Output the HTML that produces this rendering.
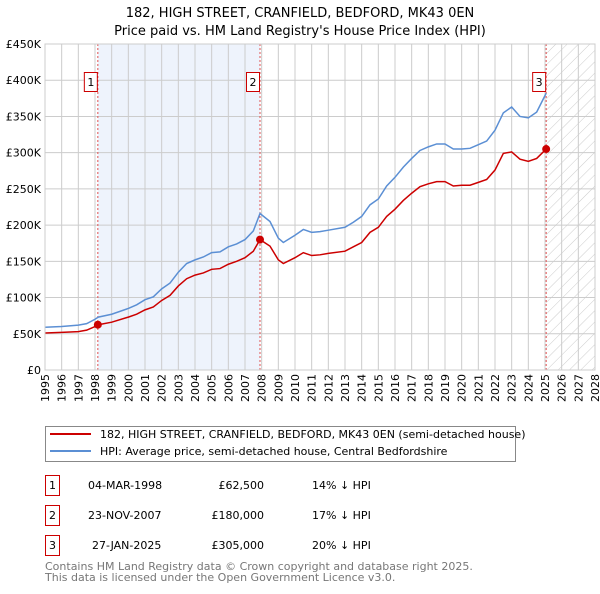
<!DOCTYPE html>
<html><head><meta charset="utf-8"><style>
body{margin:0;background:#fff;font-family:"DejaVu Sans","Liberation Sans",sans-serif;}
svg text{font-family:"DejaVu Sans","Liberation Sans",sans-serif;}
</style></head><body>
<svg id="chart" width="600" height="590" viewBox="0 0 600 590" xmlns="http://www.w3.org/2000/svg">
<defs>
<pattern id="hatch" patternUnits="userSpaceOnUse" width="8" height="8" patternTransform="rotate(45)">
<line x1="0" y1="0" x2="0" y2="8" stroke="#ccc" stroke-width="1"/>
</pattern>
</defs>
<text x="300" y="17" text-anchor="middle" font-size="13">182, HIGH STREET, CRANFIELD, BEDFORD, MK43 0EN</text>
<text x="300" y="35" text-anchor="middle" font-size="13">Price paid vs. HM Land Registry's House Price Index (HPI)</text>
<g id="plot"></g>
<g>
<rect x="45.5" y="426.5" width="470" height="35" fill="#fff" stroke="#888"/>
<line x1="50" y1="434" x2="91" y2="434" stroke="#cc0000" stroke-width="2"/>
<text x="100" y="438" font-size="11">182, HIGH STREET, CRANFIELD, BEDFORD, MK43 0EN (semi-detached house)</text>
<line x1="50" y1="451" x2="91" y2="451" stroke="#5b8fd4" stroke-width="2"/>
<text x="100" y="455" font-size="11">HPI: Average price, semi-detached house, Central Bedfordshire</text>
</g>
<g font-size="11">
<rect x="45.5" y="475.5" width="14" height="20" fill="none" stroke="#cc0000"/><text x="52.5" y="489" text-anchor="middle">1</text>
<text x="88" y="489">04-MAR-1998</text><text x="264" y="489" text-anchor="end">£62,500</text><text x="312" y="489">14% ↓ HPI</text>
<rect x="45.5" y="505.5" width="14" height="20" fill="none" stroke="#cc0000"/><text x="52.5" y="519" text-anchor="middle">2</text>
<text x="88" y="519">23-NOV-2007</text><text x="264" y="519" text-anchor="end">£180,000</text><text x="312" y="519">17% ↓ HPI</text>
<rect x="45.5" y="535.5" width="14" height="20" fill="none" stroke="#cc0000"/><text x="52.5" y="549" text-anchor="middle">3</text>
<text x="92" y="549">27-JAN-2025</text><text x="264" y="549" text-anchor="end">£305,000</text><text x="312" y="549">20% ↓ HPI</text>
</g>
<text x="45" y="570" font-size="11" fill="#777">Contains HM Land Registry data © Crown copyright and database right 2025.</text>
<text x="45" y="581" font-size="11" fill="#777">This data is licensed under the Open Government Licence v3.0.</text>
</svg>
<script>
const yearTicks=[1995,1996,1997,1998,1999,2000,2001,2002,2003,2004,2005,2006,2007,2008,2009,2010,2011,2012,2013,2014,2015,2016,2017,2018,2019,2020,2021,2022,2023,2024,2025,2026,2027,2028];
const valueTicks=[0,50000,100000,150000,200000,250000,300000,350000,400000,450000];
const valueLabels=["£0","£50K","£100K","£150K","£200K","£250K","£300K","£350K","£400K","£450K"];
const hpiYears=[1995,1996,1997,1997.5,1998,1998.2,1999,2000,2000.5,2001,2001.5,2002,2002.5,2003,2003.5,2004,2004.5,2005,2005.5,2006,2006.5,2007,2007.5,2007.9,2008.5,2009,2009.3,2010,2010.5,2011,2011.5,2012,2013,2013.5,2014,2014.5,2015,2015.5,2016,2016.5,2017,2017.5,2018,2018.5,2019,2019.5,2020,2020.5,2021,2021.5,2022,2022.5,2023,2023.5,2024,2024.5,2025.07];
const hpiValues=[59000,60000,62000,64000,70000,73000,77000,85000,90000,97000,101000,112000,120000,135000,147000,152000,156000,162000,163000,170000,174000,180000,192000,216000,205000,182000,176000,186000,194000,190000,191000,193000,197000,204000,212000,228000,236000,254000,266000,280000,292000,303000,308000,312000,312000,305000,305000,306000,311000,316000,331000,355000,363000,350000,348000,356000,382000];
const priceValues=[51000,52000,53000,55000,60000,62500,66000,73000,77000,83000,87000,96000,103000,116000,126000,131000,134000,139000,140000,146000,150000,155000,164000,180000,171000,152000,147000,155000,162000,158000,159000,161000,164000,170000,176000,190000,197000,212000,222000,234000,244000,253000,257000,260000,260000,254000,255000,255000,259000,263000,276000,299000,301000,291000,288000,292000,305000];
const saleYears=[1998.17,2007.9,2025.07];
const salePrices=[62500,180000,305000];
const saleLabels=["1","2","3"];

const X0=45,X1=595,Y0=370,Y1=44;
const xs=y=>X0+(y-1995)/(2028-1995)*(X1-X0);
const ys=v=>Y0-v/450000*(Y0-Y1);
const NS="http://www.w3.org/2000/svg";
const g=document.getElementById('plot');
function mk(t,a){const e=document.createElementNS(NS,t);for(const k in a)e.setAttribute(k,a[k]);g.appendChild(e);return e;}

const band=mk('rect',{x:xs(saleYears[0]),y:Y1,width:xs(saleYears[1])-xs(saleYears[0]),height:Y0-Y1,fill:'#eef3fc'});


const hat=mk('rect',{x:xs(saleYears[2]),y:Y1,width:X1-xs(saleYears[2]),height:Y0-Y1,fill:'url(#hatch)'});



yearTicks.forEach(yr=>{
  const x=xs(yr);
  const l=mk('line',{x1:x,y1:Y1,x2:x,y2:Y0,stroke:'#ccc','stroke-width':1});
  
  
  const t=mk('text',{x:0,y:0,'text-anchor':'end','font-size':11,transform:'translate('+(x+4)+','+(Y0+4)+') rotate(-90)'});
  t.textContent=yr;
  
  
});
valueTicks.forEach((v,i)=>{
  const y=ys(v);
  const l=mk('line',{x1:X0,y1:y,x2:X1,y2:y,stroke:'#ccc','stroke-width':1});
  
  
  const t=mk('text',{x:X0-4,y:y+4,'text-anchor':'end','font-size':11});
  t.textContent=valueLabels[i];
  
  
});

saleYears.forEach((yr,i)=>{
  const x=xs(yr);
  const l=mk('line',{x1:x,y1:Y1,x2:x,y2:Y0,stroke:'#e05050','stroke-width':1,'stroke-dasharray':'2,2'});
  
  
  const r=mk('rect',{x:x-13.5,y:72.5,width:13,height:19,fill:'#fff',stroke:'#cc0000'});
  
  
  const t=mk('text',{x:x-7,y:86,'text-anchor':'middle','font-size':11});
  t.textContent=saleLabels[i];
  
  
});

const hp=mk('polyline',{points:hpiYears.map((y,i)=>xs(y)+','+ys(hpiValues[i])).join(' '),fill:'none',stroke:'#5b8fd4','stroke-width':1.5});


const pp=mk('polyline',{points:hpiYears.map((y,i)=>xs(y)+','+ys(priceValues[i])).join(' '),fill:'none',stroke:'#cc0000','stroke-width':1.5});


saleYears.forEach((yr,i)=>{
  const c=mk('circle',{cx:xs(yr),cy:ys(salePrices[i]),r:4,fill:'#cc0000'});
  
  
});
const fr=mk('rect',{x:X0,y:Y1,width:X1-X0,height:Y0-Y1,fill:'none',stroke:'#ccc'});


</script>
</body></html>
